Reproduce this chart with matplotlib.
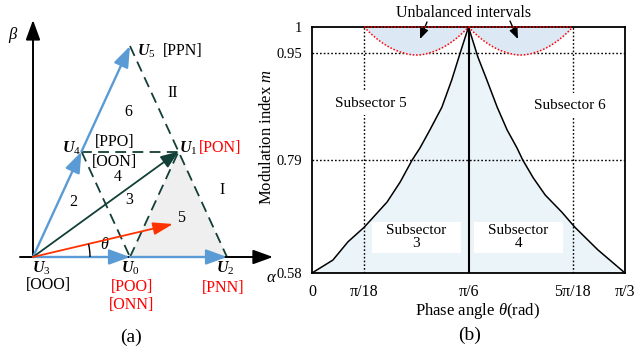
import numpy as np
import matplotlib
matplotlib.use('Agg')
import matplotlib.pyplot as plt
from matplotlib.patches import Polygon, Rectangle, Arc

plt.rcParams['font.family'] = ['Liberation Serif', 'DejaVu Sans']
plt.rcParams['mathtext.fontset'] = 'custom'
plt.rcParams['mathtext.rm'] = 'Liberation Serif'
plt.rcParams['mathtext.it'] = 'Liberation Serif:italic'
plt.rcParams['mathtext.bf'] = 'Liberation Serif:italic:bold'

# ---- (a) space vector diagram: vertices in alpha-beta units ----
s3 = np.sqrt(3)
vec = {'U3': (0.0, 0.0), 'U0': (1.0, 0.0), 'U2': (2.0, 0.0),
       'U4': (0.5, s3 / 2), 'U1': (1.5, s3 / 2), 'U5': (1.0, s3)}
ref_vec = (1.443, 0.271)
dashed_edges = [('U5', 'U2'), ('U4', 'U1'), ('U4', 'U0'), ('U0', 'U1')]
blue_edges = [('U3', 'U0'), ('U0', 'U2'), ('U3', 'U4'), ('U4', 'U5')]

# ---- (b) modulation index vs phase angle ----
theta_deg = [0, 4.0, 6.9, 10.0, 14.4, 16.9, 19.2, 20.7, 22.6, 24.9, 26.8, 28.4, 30,
             31.8, 33.5, 35.5, 37.4, 39.3, 40.4, 42.4, 44.7, 47.9, 50.4, 54.8, 60]
m_curve = [0.58, 0.604, 0.638, 0.665, 0.712, 0.749, 0.79, 0.808, 0.835, 0.869, 0.910, 0.95, 1.0,
           0.944, 0.910, 0.869, 0.835, 0.808, 0.79, 0.757, 0.725, 0.693, 0.665, 0.623, 0.58]
m_ticks = [0.58, 0.79, 0.95, 1.0]
m_ticklabels = ['0.58', '0.79', '0.95', '1']
th_ticks = [0, np.pi / 18, np.pi / 6, 5 * np.pi / 18, np.pi / 3]
th_ticklabels = ['0', 'π/18', 'π/6', '5π/18', 'π/3']
unbalanced = [(10, 30), (30, 50)]  # degrees
unbalanced_depth = 0.947

dark = '#123f37'
blue = '#5b9bd5'
red = '#ff0000'

fig = plt.figure(figsize=(6.41, 3.59), dpi=100)

# ================= left panel =================
axl = fig.add_axes([0, 0, 300 / 641, 1])
axl.set_xlim(-0.3402, 2.7526)
axl.set_ylim(-0.8374, 2.11)
axl.axis('off')

axl.add_patch(Polygon([vec['U0'], vec['U2'], vec['U1']], closed=True,
                      facecolor='#efefef', edgecolor='none', zorder=1))

for a, b in dashed_edges:
    (x0, y0), (x1, y1) = vec[a], vec[b]
    axl.plot([x0, x1], [y0, y1], color=dark, lw=1.3, ls=(0, (6, 3.5)), zorder=2)

# axes
axl.annotate('', xy=(2.474, 0), xytext=(-0.134, 0),
             arrowprops=dict(arrowstyle='-|>,head_length=1.1,head_width=0.4', color='black',
                             lw=1.4, shrinkA=0, shrinkB=0, mutation_scale=11), zorder=3)
axl.annotate('', xy=(0, 1.946), xytext=(0, 0),
             arrowprops=dict(arrowstyle='-|>,head_length=1.1,head_width=0.4', color='black',
                             lw=1.4, shrinkA=0, shrinkB=0, mutation_scale=11), zorder=3)

for a, b in blue_edges:
    axl.annotate('', xy=vec[b], xytext=vec[a],
                 arrowprops=dict(arrowstyle='-|>,head_length=0.9,head_width=0.33', color=blue,
                                 lw=1.7, shrinkA=0, shrinkB=0, mutation_scale=14), zorder=4)

axl.annotate('', xy=vec['U1'], xytext=vec['U3'],
             arrowprops=dict(arrowstyle='-|>,head_length=0.9,head_width=0.35', color=dark,
                             lw=1.3, shrinkA=0, shrinkB=0, mutation_scale=12), zorder=4)
axl.annotate('', xy=ref_vec, xytext=vec['U3'],
             arrowprops=dict(arrowstyle='-|>,head_length=1.1,head_width=0.35', color='#ff3300',
                             lw=1.3, shrinkA=0, shrinkB=0, mutation_scale=11), zorder=5)
ang = np.degrees(np.arctan2(ref_vec[1], ref_vec[0]))
axl.add_patch(Arc((0, 0), 2 * 57 / 97, 2 * 57 / 121.8, theta1=0, theta2=ang,
                  color='black', lw=1.0, zorder=5))

fs = 11.5
axl.text(-0.206, 1.823, r'$\beta$', fontsize=12, ha='center', va='center')
axl.text(2.454, -0.172, r'$\alpha$', fontsize=12, ha='center', va='center')
axl.text(0.082, -0.090, r'$\mathbf{U}_{\mathrm{3}}$', fontsize=fs, ha='center', va='center')
axl.text(0.155, -0.230, '[OOO]', fontsize=fs, ha='center', va='center')
axl.text(1.0, -0.090, r'$\mathbf{U}_{\mathrm{0}}$', fontsize=fs, ha='center', va='center')
axl.text(1.02, -0.246, '[POO]', fontsize=fs, ha='center', va='center', color=red)
axl.text(1.02, -0.394, '[ONN]', fontsize=fs, ha='center', va='center', color=red)
axl.text(1.98, -0.090, r'$\mathbf{U}_{\mathrm{2}}$', fontsize=fs, ha='center', va='center')
axl.text(1.96, -0.255, '[PNN]', fontsize=fs, ha='center', va='center', color=red)
axl.text(1.07, 1.691, r'$\mathbf{U}_{\mathrm{5}}$', fontsize=fs, ha='left', va='center')
axl.text(1.546, 1.691, '[PPN]', fontsize=fs, ha='center', va='center')
axl.text(0.402, 0.895, r'$\mathbf{U}_{\mathrm{4}}$', fontsize=fs, ha='center', va='center')
axl.text(0.845, 0.944, '[PPO]', fontsize=fs, ha='center', va='center')
axl.text(0.845, 0.780, '[OON]', fontsize=fs, ha='center', va='center')
axl.text(1.505, 0.895, r'$\mathbf{U}_{\mathrm{1}}$', fontsize=fs, ha='left', va='center')
axl.text(1.928, 0.895, '[PON]', fontsize=fs, ha='center', va='center', color=red)
for lab, x, y in [('6', 0.979, 1.190), ('II', 1.443, 1.346), ('4', 0.876, 0.657),
                  ('2', 0.412, 0.452), ('3', 0.990, 0.468), ('5', 1.53, 0.320),
                  ('I', 1.948, 0.550)]:
    axl.text(x, y, lab, fontsize=fs, ha='center', va='center')
axl.text(0.742, 0.095, r'$\theta$', fontsize=fs, ha='center', va='center')
axl.text(1.01, -0.657, '(a)', fontsize=14, ha='center', va='center')

# ================= right panel =================
px_knots = [-312.0, 0, 113, 220, 246, 506]
m_knots = [0.0, 0.58, 0.79, 0.95, 1.0, 1.5]


def fwd(m):
    return np.interp(m, m_knots, px_knots)


def inv(p):
    return np.interp(p, px_knots, m_knots)


ax = fig.add_axes([312 / 641, 86 / 359, 313 / 641, 246 / 359])
ax.set_yscale('function', functions=(fwd, inv))
th = np.deg2rad(theta_deg)
ax.set_xlim(0, np.pi / 3)
ax.set_ylim(0.58, 1.0)

ax.fill_between(th, 0.58, m_curve, color='#eaf4f9', lw=0, zorder=1)

for mv in [0.95, 0.79]:
    ax.axhline(mv, color='black', lw=1.0, ls=(0, (1.2, 1.5)), zorder=2)
for tv in [np.pi / 18, 5 * np.pi / 18]:
    ax.axvline(tv, color='black', lw=1.0, ls=(0, (1.2, 1.5)), zorder=2)

ax.plot(th, m_curve, color='black', lw=1.1, zorder=4)
ax.axvline(np.pi / 6, color='black', lw=1.5, zorder=4)

for a, b in unbalanced:
    t = np.linspace(np.deg2rad(a), np.deg2rad(b), 60)
    c, hw = (t[0] + t[-1]) / 2, (t[-1] - t[0]) / 2
    arc = 1 - (1 - unbalanced_depth) * (1 - ((t - c) / hw) ** 2)
    ax.fill_between(t, arc, 1.0, color='#dce8f4', lw=0, zorder=3)
    ax.plot(t, arc, color=red, lw=1.1, ls=(0, (1, 1.2)), zorder=5)
    ax.plot([t[0], t[-1]], [1.0, 1.0], color=red, lw=1.1, ls=(0, (1, 1.2)), zorder=10,
            clip_on=False)

for x0, x1 in [(11.5, 28.6), (31.05, 48.1)]:
    ax.add_patch(Rectangle((np.deg2rad(x0), 0.617), np.deg2rad(x1 - x0), 0.675 - 0.617,
                           facecolor='white', edgecolor='none', zorder=6))
ax.text(np.deg2rad(19.9), 0.647, 'Subsector\n3', fontsize=11, ha='center', va='center',
        linespacing=1.05, zorder=7)
ax.text(np.deg2rad(39.6), 0.647, 'Subsector\n4', fontsize=11, ha='center', va='center',
        linespacing=1.05, zorder=7)
ax.text(np.deg2rad(11.3), 0.875, 'Subsector 5', fontsize=11, ha='center', va='center', zorder=7,
        bbox=dict(boxstyle='square,pad=0.35', facecolor='white', edgecolor='none'))
ax.text(np.deg2rad(49.5), 0.872, 'Subsector 6', fontsize=11, ha='center', va='center', zorder=7,
        bbox=dict(boxstyle='square,pad=0.35', facecolor='white', edgecolor='none'))

fig.text(464 / 641, 1 - 13 / 359, 'Unbalanced intervals', fontsize=11.5, ha='center', va='center')
for tip, tail in [((0.345, 0.951), (427, 22)), ((0.658, 0.951), (510, 21))]:
    ax.annotate('', xy=tip, xycoords='axes fraction',
                xytext=(tail[0] / 641, 1 - tail[1] / 359), textcoords='figure fraction',
                arrowprops=dict(arrowstyle='-|>,head_length=0.8,head_width=0.32', color='black',
                                lw=1.0, shrinkA=0, shrinkB=0, mutation_scale=8), zorder=8)

ax.set_yticks(m_ticks)
ax.set_yticklabels(m_ticklabels, fontsize=10.5)
ax.set_xticks(th_ticks)
ax.set_xticklabels(th_ticklabels, fontsize=11.5)
ax.tick_params(axis='y', length=0, pad=7)
ax.tick_params(axis='x', length=0, pad=8)
ax.set_ylabel(r'Modulation index $m$', fontsize=12)
ax.yaxis.set_label_coords(-0.118, 0.555)
ax.set_xlabel(r'Phase angle $\theta$(rad)', fontsize=12)
ax.xaxis.set_label_coords(0.53, -0.114)
for sp in ax.spines.values():
    sp.set_linewidth(1.3)
    sp.set_zorder(9)
fig.text(470 / 641, 1 - 335 / 359, '(b)', fontsize=14, ha='center', va='center')

fig.savefig('out.png', dpi=100)
